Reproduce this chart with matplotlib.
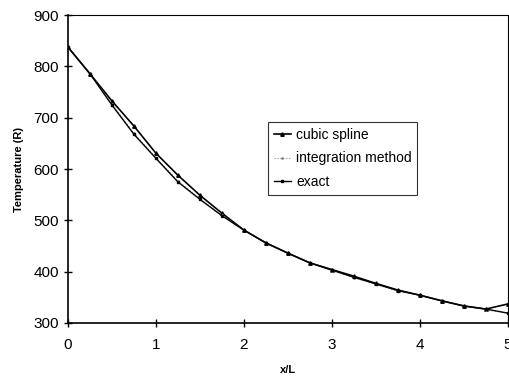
import matplotlib
matplotlib.use("Agg")
import matplotlib.pyplot as plt

plt.rcParams['font.family'] = ['Liberation Sans', 'DejaVu Sans']

x_over_L = [0, 0.25, 0.5, 0.75, 1, 1.25, 1.5, 1.75, 2, 2.25, 2.5, 2.75,
            3, 3.25, 3.5, 3.75, 4, 4.25, 4.5, 4.75, 5]
cubic_spline = [838, 786, 733, 684, 631, 588, 549, 514, 481, 456, 436, 417,
                404, 391, 377, 364, 354, 343, 333, 327, 337]
integration_method = [838, 786, 727, 670, 622, 577, 542, 510, 481, 456, 436, 417,
                      402, 388, 375, 362, 354, 343, 333, 326, 319]
exact = [838, 786, 725, 668, 621, 575, 541, 509, 481, 456, 436, 417,
         403, 389, 376, 363, 354, 343, 333, 327, 319]

fig = plt.figure(figsize=(5.1, 3.79), dpi=100)
ax = fig.add_axes([0.133, 0.148, 0.863, 0.812])

ax.plot(x_over_L, cubic_spline, color='black', lw=1.2, marker='^', ms=2.5,
        label='cubic spline')
ax.plot(x_over_L, integration_method, color='#888888', lw=0.8, ls=':', marker='.',
        ms=2, label='integration method')
ax.plot(x_over_L, exact, color='black', lw=1.0, marker='s', ms=2,
        label='exact')

ax.set_xlim(0, 5)
ax.set_ylim(300, 900)
ax.set_xticks([0, 1, 2, 3, 4, 5])
ax.set_yticks([300, 400, 500, 600, 700, 800, 900])
ax.tick_params(direction='inout', length=6, width=1, labelsize=11, colors='black')
ax.tick_params(axis='x', pad=8)

for side in ['top', 'right']:
    ax.spines[side].set_linestyle((0, (1, 1)))
    ax.spines[side].set_linewidth(0.8)
for side in ['left', 'bottom']:
    ax.spines[side].set_linewidth(1.2)

ax.set_xlabel('x/L', fontweight='bold', fontsize=8, labelpad=9)
ax.set_ylabel('Temperature (R)', fontweight='bold', fontsize=8, labelpad=7)

leg = ax.legend(loc='upper left', bbox_to_anchor=(0.44, 0.675), fontsize=10,
                frameon=True, fancybox=False, edgecolor='black', handlelength=1.2,
                handletextpad=0.4, borderpad=0.4, labelspacing=0.7)
leg.get_frame().set_linewidth(0.8)

fig.savefig('out.png', dpi=100)
